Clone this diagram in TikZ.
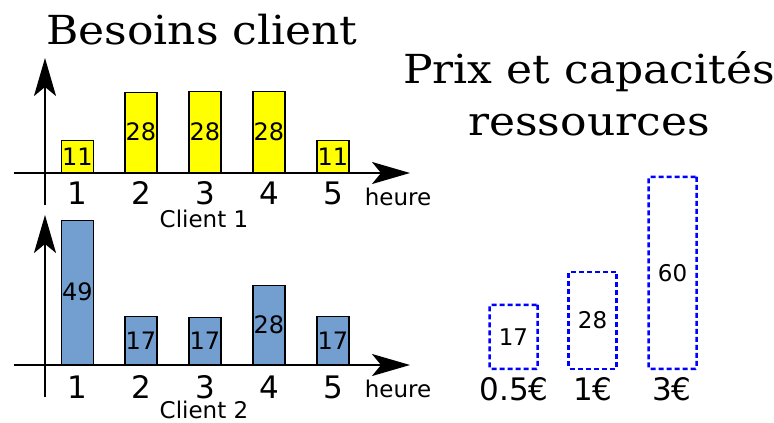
\documentclass[tikz,border=0pt]{standalone}
\usepackage{fontspec}
\setmainfont{DejaVu Sans}
\newfontfamily\titlefont[FakeStretch=1.1]{DejaVu Serif}
\usetikzlibrary{arrows.meta}
\definecolor{baryellow}{HTML}{FFFF00}
\definecolor{barblue}{HTML}{729FCF}
\definecolor{boxblue}{HTML}{0000FF}
\begin{document}
\begin{tikzpicture}[x=1pt,y=-1pt,
  axis/.style={line width=2pt,-{Stealth[length=38pt,width=22pt,inset=9pt]}},
  bar/.style={draw,line width=1.5pt,minimum width=32pt,inner sep=0pt,anchor=south,font=\fontsize{24}{24}\selectfont},
  ybar/.style={bar,fill=baryellow},
  bbar/.style={bar,fill=barblue},
  tick/.style={font=\fontsize{31}{31}\selectfont,inner sep=0pt},
  small/.style={font=\fontsize{23}{23}\selectfont,inner sep=0pt},
  title/.style={font=\titlefont\fontsize{40}{40}\selectfont,inner sep=0pt},
  capbox/.style={draw=boxblue,line width=2.5pt,dash pattern=on 5pt off 3pt,rounded corners=1pt,minimum width=48pt,inner sep=0pt,anchor=south,font=\fontsize{23}{23}\selectfont}
]
\useasboundingbox (0,0) rectangle (774,423);
% titles
\node[title] (t1) at (202,30) {Besoins client};
\node[title] (t2) at (589,72) {Prix et capacités};
\node[title] (t3) at (589,125) {ressources};
% top chart
\coordinate (ay1s) at (45,205);
\coordinate (ay1e) at (45,58);
\coordinate (ax1s) at (14,173);
\coordinate (ax1e) at (410,173);
\draw[axis] (ay1s) -- (ay1e);
\draw[axis] (ax1s) -- (ax1e);
\node[ybar,minimum height=32pt] (a1) at (77.5,173) {11};
\node[ybar,minimum height=80pt] (a2) at (141,173) {28};
\node[ybar,minimum height=81pt] (a3) at (205,173) {28};
\node[ybar,minimum height=81pt] (a4) at (269,173) {28};
\node[ybar,minimum height=32pt] (a5) at (333,173) {11};
\node[tick] (h11) at (77,193) {1};
\node[tick] (h12) at (141,193) {2};
\node[tick] (h13) at (205,193) {3};
\node[tick] (h14) at (269,193) {4};
\node[tick] (h15) at (333,193) {5};
\node[small] (u1) at (398,197) {heure};
\node[small] (c1) at (204,219) {Client 1};
% bottom chart
\coordinate (ay2s) at (45,397);
\coordinate (ay2e) at (45,215);
\coordinate (ax2s) at (14,365);
\coordinate (ax2e) at (410,365);
\draw[axis] (ay2s) -- (ay2e);
\draw[axis] (ax2s) -- (ax2e);
\node[bbar,minimum height=144pt] (b1) at (77.5,365) {49};
\node[bbar,minimum height=48pt] (b2) at (141,365) {17};
\node[bbar,minimum height=47pt] (b3) at (205,365) {17};
\node[bbar,minimum height=79pt] (b4) at (269,365) {28};
\node[bbar,minimum height=48pt] (b5) at (333,365) {17};
\node[tick] (h21) at (77,387) {1};
\node[tick] (h22) at (141,387) {2};
\node[tick] (h23) at (205,387) {3};
\node[tick] (h24) at (269,387) {4};
\node[tick] (h25) at (333,387) {5};
\node[small] (u2) at (398,389) {heure};
\node[small] (c2) at (204,410) {Client 2};
% resources
\node[capbox,minimum height=64pt] (r1) at (513.5,370) {17};
\node[capbox,minimum height=97pt] (r2) at (592.5,370) {28};
\node[capbox,minimum height=192pt] (r3) at (672.5,370) {60};
\node[tick] (p1) at (514,389) {0.5€};
\node[tick] (p2) at (593,389) {1€};
\node[tick] (p3) at (672,389) {3€};
\end{tikzpicture}
\end{document}
